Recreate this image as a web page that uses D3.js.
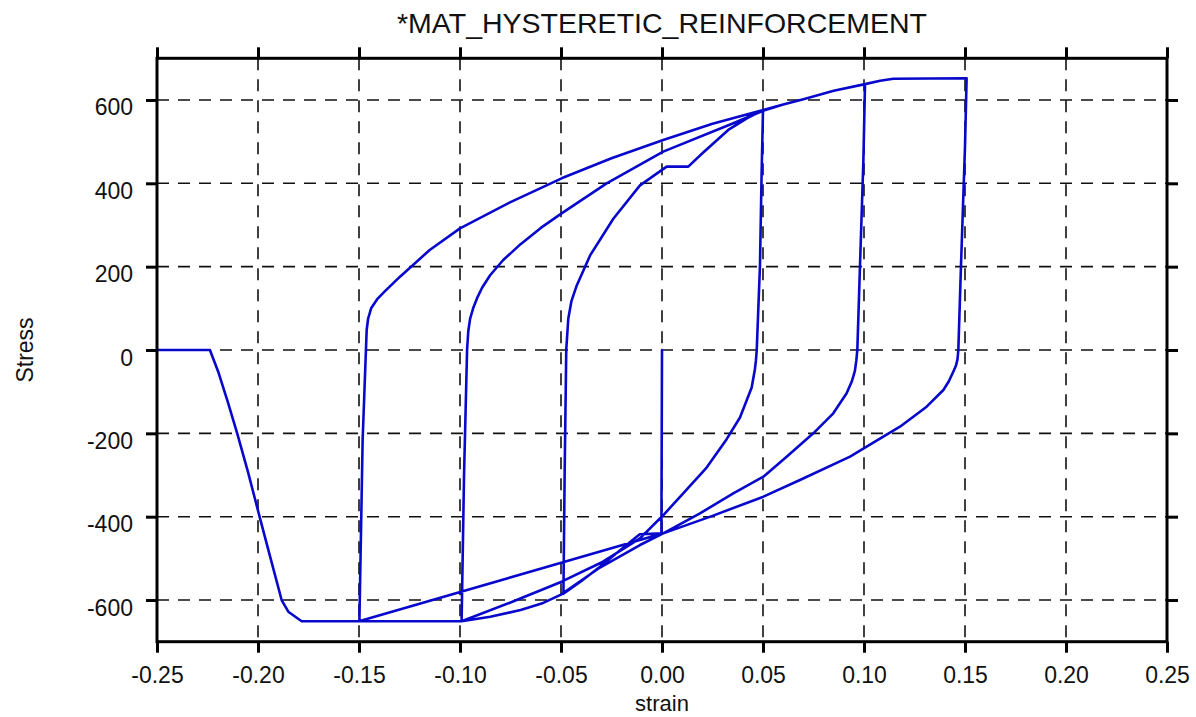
<!DOCTYPE html>
<html>
<head>
<meta charset="utf-8">
<script src="https://cdn.jsdelivr.net/npm/d3@7"></script>
<style>
  html, body { margin: 0; padding: 0; background: #fff; }
  svg { display: block; font-family: "Liberation Sans", Arial, sans-serif; }
</style>
</head>
<body>
<svg id="chart" width="1196" height="717"></svg>
<script>
// ---- data -----------------------------------------------------------
const chartTitle = "*MAT_HYSTERETIC_REINFORCEMENT";
const xLabel = "strain";
const yLabel = "Stress";
const xTicks = [-0.25, -0.20, -0.15, -0.10, -0.05, 0.00, 0.05, 0.10, 0.15, 0.20, 0.25];
const yTicks = [-600, -400, -200, 0, 200, 400, 600];
const xDomain = [-0.25, 0.25];
const yDomain = [-700, 700];

// strain / stress history (in loading order)
const strain = [
  0, -0.0003, -0.011, -0.015, -0.0307, -0.040, -0.0488,
  -0.0482, -0.0474, -0.0464, -0.0448, -0.0422, -0.0356, -0.0241, -0.0109, 0.0023, 0.013, 0.020, 0.0328, 0.042, 0.0500,
  0.0493, 0.0485, 0.0469, 0.0465, 0.046, 0.0452, 0.0444, 0.0386, 0.032, 0.0221, 0.0105, 0.0007, -0.0109, -0.030, -0.0497, -0.075, -0.0992,
  -0.0980, -0.0965, -0.0959, -0.0950, -0.0935, -0.0915, -0.0890, -0.0850, -0.0786, -0.070, -0.060, -0.0497, -0.0274, 0.0006, 0.0353, 0.0500, 0.060, 0.070, 0.085, 0.1005,
  0.0997, 0.098, 0.0967, 0.0962, 0.0955, 0.0940, 0.0914, 0.0848, 0.0749, 0.0617, 0.0502, 0.0353, 0.0188, 0.0006, -0.0109, -0.0307, -0.0500, -0.0588, -0.070, -0.085, -0.0992, -0.1498,
  -0.1482, -0.1462, -0.1455, -0.1440, -0.1410, -0.1370, -0.1297, -0.1150, -0.1000, -0.0750, -0.0497, -0.025, 0.0006, 0.025, 0.0501, 0.060, 0.070, 0.085, 0.1005, 0.108, 0.1145, 0.1508,
  0.1500, 0.1480, 0.1467, 0.1463, 0.1455, 0.1442, 0.1420, 0.1393, 0.1310, 0.1178, 0.1013, 0.0931, 0.0683, 0.0502, 0.025, 0.0006, -0.1500,
  -0.1784, -0.1850, -0.1883, -0.194, -0.199, -0.2050, -0.2103, -0.2150, -0.2197, -0.2238, -0.25
];
const stress = [
  0, -440, -442, -458, -520, -555, -585,
  -300, 0, 75, 118, 155, 227, 315, 395, 440, 440, 472, 528, 556, 576,
  420, 203, 0, -25, -46, -68, -90, -162, -214, -282, -344, -396, -452, -510, -556, -606, -651,
  -300, 0, 45, 75, 100, 125, 150, 180, 216, 254, 293, 328, 400, 476, 544, 574, 589, 602, 622, 638,
  456, 200, 0, -25, -50, -75, -104, -152, -200, -256, -304, -344, -392, -440, -468, -522, -587, -607, -624, -640, -651, -651,
  -216, 48, 75, 100, 122, 142, 176, 240, 292, 355, 412, 460, 504, 543, 576, 589, 602, 622, 638, 646, 651, 652,
  488, 200, 0, -22, -38, -52, -75, -96, -136, -184, -232, -256, -312, -352, -398, -440, -651,
  -651, -628, -600, -496, -404, -292, -200, -124, -52, 0, 0
];

// ---- layout ---------------------------------------------------------
const svg = d3.select("#chart");
const W = 1196, H = 717;
const m = { left: 157, right: 29, top: 58.3, bottom: 75.3 };
const x = d3.scaleLinear().domain(xDomain).range([m.left, W - m.right]);
const y = d3.scaleLinear().domain(yDomain).range([H - m.bottom, m.top]);
const x0 = x.range()[0], x1 = x.range()[1];
const y0 = y.range()[0], y1 = y.range()[1];

// grid
const grid = svg.append("g").attr("stroke", "#111").attr("stroke-width", 1.6)
  .attr("stroke-dasharray", "12,9").attr("fill", "none");
grid.selectAll("line.v").data(xTicks.slice(1, -1)).join("line").attr("class", "v")
  .attr("x1", d => x(d)).attr("x2", d => x(d)).attr("y1", y1).attr("y2", y0);
grid.selectAll("line.h").data(yTicks).join("line").attr("class", "h")
  .attr("x1", x0).attr("x2", x1).attr("y1", d => y(d)).attr("y2", d => y(d));

// data
const pts = strain.map((s, i) => [s, stress[i]]);
const line = d3.line().x(d => x(d[0])).y(d => y(d[1]));
svg.append("path").datum(pts).attr("d", line)
  .attr("fill", "none").attr("stroke", "#0808cc").attr("stroke-width", 2.6)
  .attr("stroke-linejoin", "round").attr("stroke-linecap", "round");

// axes (outward ticks on all sides)
const fmt = d => d.toFixed(2);
const axB = d3.axisBottom(x).tickValues(xTicks).tickSize(11).tickPadding(14).tickFormat(fmt);
const axT = d3.axisTop(x).tickValues(xTicks).tickSize(11).tickFormat("");
const axL = d3.axisLeft(y).tickValues(yTicks).tickSize(11).tickPadding(13).tickFormat(d => String(d));
const axR = d3.axisRight(y).tickValues(yTicks).tickSize(11).tickFormat("");

function style(g) {
  g.select(".domain").remove();
  g.selectAll(".tick line").attr("stroke", "#000").attr("stroke-width", 3);
  g.selectAll(".tick text").attr("fill", "#111").style("font-size", "23px")
    .style("font-family", "'Liberation Sans', Arial, sans-serif");
}
const gB = svg.append("g").attr("transform", `translate(0,${y0})`).call(axB).call(style);
gB.selectAll(".tick text").attr("dy", null).attr("y", 41).attr("dominant-baseline", "auto");
svg.append("g").attr("transform", `translate(0,${y1})`).call(axT).call(style);
const gL = svg.append("g").attr("transform", `translate(${x0},0)`).call(axL).call(style);
gL.selectAll(".tick text").attr("dy", null).attr("y", 15).attr("dominant-baseline", "auto");
svg.append("g").attr("transform", `translate(${x1},0)`).call(axR).call(style);

// frame
svg.append("rect").attr("x", x0).attr("y", y1).attr("width", x1 - x0).attr("height", y0 - y1)
  .attr("fill", "none").attr("stroke", "#000").attr("stroke-width", 3);

// titles
svg.append("text").attr("x", (x0 + x1) / 2).attr("y", 33).attr("text-anchor", "middle")
  .style("font-size", "28.5px").attr("fill", "#111").text(chartTitle);
svg.append("text").attr("x", (x0 + x1) / 2).attr("y", 711).attr("text-anchor", "middle")
  .style("font-size", "22px").attr("fill", "#111").text(xLabel);
svg.append("text").attr("transform", `translate(33,${(y0 + y1) / 2}) rotate(-90)`)
  .attr("text-anchor", "middle").style("font-size", "23px").attr("fill", "#111").text(yLabel);
</script>
</body>
</html>
